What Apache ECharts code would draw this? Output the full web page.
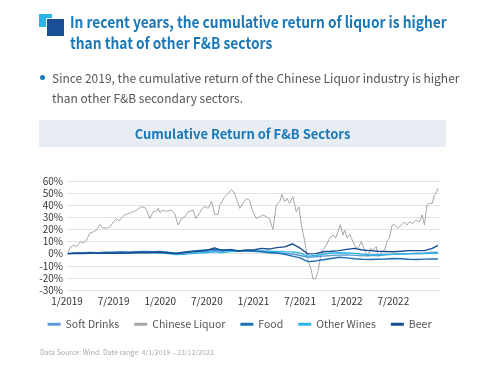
<!DOCTYPE html>
<html>
<head>
<meta charset="utf-8">
<script src="https://cdn.jsdelivr.net/npm/echarts@6/dist/echarts.min.js"></script>
<style>
  html, body { margin:0; padding:0; background:#fff; }
  body { width:479px; height:371px; position:relative; overflow:hidden; font-family:"Noto Sans CJK SC","Noto Sans",sans-serif; }
  #chart { position:absolute; left:0; top:0; width:479px; height:371px; }
  .abs { position:absolute; white-space:nowrap; }
  #icon1 { left:39px; top:14px; width:13px; height:13px; background:#29b5e6; }
  #icon2 { left:46px; top:18px; width:17px; height:17px; background:#1a4f96; border-left:1px solid #fff; border-top:1px solid #fff; }
  #title { left:70px; top:11px; font-size:16px; line-height:21px; font-weight:bold; color:#1a78b8; transform-origin:0 0; transform:scaleX(0.86); }
  #bullet { left:40px; top:75px; width:5px; height:5px; border-radius:50%; background:#1a78b8; }
  #sub { left:52px; top:68px; font-size:12px; line-height:20px; color:#555; }
  #band { left:39px; top:120px; width:407px; height:27px; background:#e8edf3; }
  #ctitle { left:39px; top:120px; width:407px; height:27px; line-height:27px; text-align:center; font-size:13px; font-weight:bold; color:#1a78b8; }
  #note { left:40px; top:347px; font-size:7px; color:#aaa; }
</style>
</head>
<body>
<div id="chart"></div>
<div class="abs" id="icon1"></div>
<div class="abs" id="icon2"></div>
<div class="abs" id="title">In recent years, the cumulative return of liquor is higher<br>than that of other F&amp;B sectors</div>
<div class="abs" id="bullet"></div>
<div class="abs" id="sub">Since 2019, the cumulative return of the Chinese Liquor industry is higher<br>than other F&amp;B secondary sectors.</div>
<div class="abs" id="band"></div>
<div class="abs" id="ctitle">Cumulative Return of F&amp;B Sectors</div>
<div class="abs" id="note">Data Source: Wind. Date range: 4/1/2019 – 23/12/2022.</div>
<script>
// ---- data ----
const seriesNames = ["Soft Drinks", "Chinese Liquor", "Food", "Other Wines", "Beer"];
const xTickLabels = ["1/2019", "7/2019", "1/2020", "7/2020", "1/2021", "7/2021", "1/2022", "7/2022"];
const yTicks = [-30, -20, -10, 0, 10, 20, 30, 40, 50, 60];

const liquorDates = ["2019-01-04","2019-01-12","2019-01-25","2019-02-08","2019-02-14","2019-02-23","2019-03-01","2019-03-16","2019-03-29","2019-04-12","2019-04-25","2019-05-08","2019-05-18","2019-06-04","2019-06-17","2019-06-29","2019-07-12","2019-07-22","2019-08-05","2019-08-14","2019-08-27","2019-09-10","2019-09-23","2019-10-06","2019-10-19","2019-11-02","2019-11-08","2019-11-21","2019-12-04","2019-12-17","2019-12-23","2019-12-30","2020-01-12","2020-01-25","2020-02-14","2020-02-27","2020-03-10","2020-03-23","2020-04-06","2020-04-18","2020-04-25","2020-05-08","2020-05-18","2020-06-01","2020-06-14","2020-06-23","2020-07-06","2020-07-19","2020-08-01","2020-08-14","2020-08-21","2020-09-10","2020-09-23","2020-10-06","2020-10-15","2020-10-25","2020-11-08","2020-11-20","2020-12-04","2020-12-16","2020-12-29","2021-01-12","2021-01-25","2021-02-08","2021-02-21","2021-03-03","2021-03-16","2021-03-29","2021-04-12","2021-04-21","2021-05-01","2021-05-10","2021-05-20","2021-06-03","2021-06-16","2021-06-26","2021-07-06","2021-07-18","2021-08-01","2021-08-14","2021-08-20","2021-08-30","2021-09-10","2021-09-19","2021-09-29","2021-10-12","2021-10-25","2021-11-08","2021-11-18","2021-11-27","2021-12-06","2021-12-16","2021-12-23","2022-01-02","2022-01-12","2022-01-25","2022-02-08","2022-02-18","2022-02-27","2022-03-10","2022-03-23","2022-04-02","2022-04-12","2022-04-25","2022-05-04","2022-05-10","2022-05-18","2022-05-27","2022-06-06","2022-06-16","2022-06-26","2022-07-05","2022-07-18","2022-08-01","2022-08-14","2022-08-23","2022-09-03","2022-09-16","2022-09-29","2022-10-12","2022-10-22","2022-11-01","2022-11-10","2022-11-20","2022-12-01","2022-12-09","2022-12-18","2022-12-23"];
const liquor = [0,4.9,7,5.8,7,10,8.5,11,17,18,19.5,24,21.4,21,22,26,29,27,30.5,32,33,34,35,37,38.7,38,36,29,35,35,37.5,34,36,35,36,33,23.6,29,30.5,34.5,34.5,36,29,33,37.4,39,37.4,43.4,32.4,32.4,40,47,49.7,53,51,45.6,37.4,41.5,45.6,44,34.6,29,30.5,32,30.5,29,20,40,43,49,43,45.6,41.5,47,34.6,38.7,23.6,11,-5,-13.4,-20.8,-20.8,-14.8,-3.8,3,7,12.7,15.4,13,18,24,15.4,19.5,13,16,10,4.4,5.8,10,3,-2.5,4.4,3,5.8,-2.5,-3.8,1.8,3,10,13,23.6,24,20.8,23.6,26.3,23.6,26.3,25,27.7,26.3,32,23.6,40,41.5,41.5,48.3,51,54];

const otherDates = ["2019-01-04","2019-02-01","2019-03-01","2019-04-01","2019-05-01","2019-06-01","2019-07-01","2019-08-01","2019-09-01","2019-10-01","2019-11-01","2019-12-01","2020-01-01","2020-02-01","2020-03-01","2020-04-01","2020-05-01","2020-06-01","2020-07-01","2020-08-01","2020-09-01","2020-10-01","2020-11-01","2020-12-01","2021-01-01","2021-02-01","2021-03-01","2021-04-01","2021-05-01","2021-06-01","2021-07-01","2021-08-01","2021-09-01","2021-10-01","2021-11-01","2021-12-01","2022-01-01","2022-02-01","2022-03-01","2022-04-01","2022-05-01","2022-06-01","2022-07-01","2022-08-01","2022-09-01","2022-10-01","2022-11-01","2022-12-01","2022-12-23"];
const softDrinks = [0,0.3,0.5,0.8,0.6,0.9,1.0,1.2,1.0,1.3,1.5,1.4, 1.6,1.2,0.5,1.0,1.4,1.8,2.0,2.4,2.2,2.6,2.2,2.5, 2.0,1.5,0.8,0.5,0.2,-0.3,-1.5,-3.0,-2.6,-2.0,-1.5,-1.2, -1.0,-1.4,-1.8,-1.5,-1.6,-1.0,-0.6,-0.3,0.0,0.3,0.6,1.0,1.3];
const food = [0,0.5,0.8,1.0,0.8,1.2,1.3,1.5,1.2,1.6,1.8,1.7, 1.9,1.0,0.2,1.2,2.0,2.6,3.0,3.4,3.0,3.2,2.5,2.4, 2.0,1.8,1.0,0.5,-0.5,-2.0,-3.5,-6.6,-6.0,-5.0,-4.0,-3.0, -3.5,-4.2,-4.6,-4.8,-4.6,-4.4,-4.0,-4.2,-4.6,-4.8,-4.5,-4.4,-4.4];
const otherWines = [0,0.2,0.4,0.3,0.5,0.6,0.4,0.8,0.6,0.9,1.0,0.8, 0.6,0.0,-0.8,-0.5,0.0,0.5,1.0,1.5,1.0,1.8,2.0,2.2, 2.4,2.2,2.0,1.8,1.6,1.5,0.5,-2.0,-1.5,-0.5,0.5,0.8, 0.6,0.2,-0.5,-1.0,-0.8,-0.6,-0.5,-0.3,0.0,-0.2,0.0,0.2,0.3];
const beer = [0,0.1,0.0,0.3,0.2,0.4,0.5,0.3,0.6,0.8,0.7,1.0, 1.2,0.6,0.0,0.8,1.5,2.0,2.8,4.8,2.5,3.5,2.0,3.0, 3.0,4.4,3.8,5.0,5.6,8.0,4.5,-0.2,0.0,1.6,2.0,2.5, 3.5,4.4,3.0,2.5,2.0,1.8,1.6,2.0,2.5,2.5,2.5,4.4,6.8];

const colors = { "Soft Drinks":"#5b9bd5", "Chinese Liquor":"#a6a6a6", "Food":"#1f6fb5", "Other Wines":"#2bb6e8", "Beer":"#1a4d8f" };

// ---- build ----
function toMonth(d) {
  const p = d.split("-").map(Number);
  return (p[0] - 2019) * 12 + (p[1] - 1) + (p[2] - 1) / 30;
}
function pairs(dates, vals) { return dates.map((d, i) => [toMonth(d), vals[i]]); }

const dataMap = {
  "Soft Drinks": pairs(otherDates, softDrinks),
  "Chinese Liquor": pairs(liquorDates, liquor),
  "Food": pairs(otherDates, food),
  "Other Wines": pairs(otherDates, otherWines),
  "Beer": pairs(otherDates, beer)
};
const drawOrder = ["Chinese Liquor", "Soft Drinks", "Other Wines", "Food", "Beer"];

const chart = echarts.init(document.getElementById("chart"), null, { renderer: "canvas" });
chart.setOption({
  animation: false,
  textStyle: { fontFamily: "Noto Sans CJK SC, Noto Sans, sans-serif" },
  grid: { left: 67, right: 39, top: 181, bottom: 81 },
  legend: {
    data: seriesNames,
    top: 314,
    left: "center",
    itemWidth: 13,
    itemHeight: 3,
    itemGap: 15,
    icon: "rect",
    textStyle: { fontSize: 10.5, color: "#555" }
  },
  xAxis: {
    type: "value",
    min: 0, max: 48, interval: 6,
    axisLine: { show: false },
    axisTick: { show: false },
    splitLine: { show: false },
    axisLabel: {
      fontSize: 10, color: "#333", margin: 6,
      formatter: v => { const i = v / 6; return i < xTickLabels.length ? xTickLabels[i] : ""; }
    }
  },
  yAxis: {
    type: "value",
    min: yTicks[0], max: yTicks[yTicks.length - 1], interval: 10,
    axisLine: { show: false },
    axisTick: { show: false },
    splitLine: { lineStyle: { color: "#e2e2e2", width: 1 } },
    axisLabel: { fontSize: 10, color: "#333", margin: 4, formatter: v => v + "%" }
  },
  series: drawOrder.map(n => ({
    name: n,
    type: "line",
    data: dataMap[n],
    showSymbol: false,
    symbol: "none",
    lineStyle: { color: colors[n], width: n === "Chinese Liquor" ? 1 : 1.4 },
    itemStyle: { color: colors[n] },
    z: n === "Chinese Liquor" ? 1 : 2
  }))
});
</script>
</body>
</html>
